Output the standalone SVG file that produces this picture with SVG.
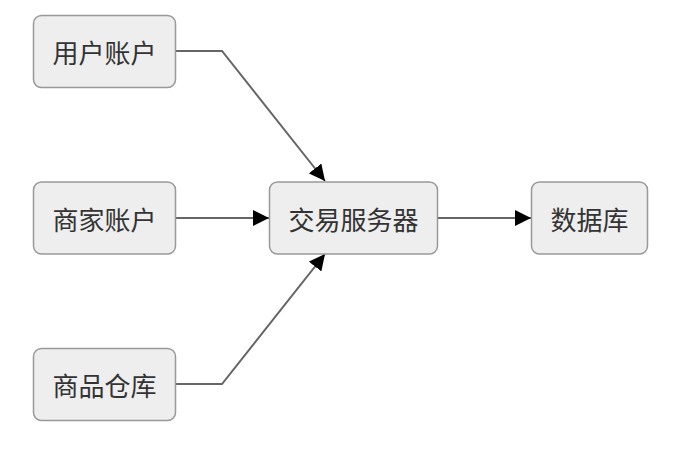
<svg xmlns="http://www.w3.org/2000/svg" width="678" height="450" viewBox="0 0 678 450">
<style>
.node rect{fill:#eeeeee;stroke:#999999;stroke-width:1.5}
.node text{font-family:"Noto Sans CJK SC","Noto Sans",sans-serif;font-size:26px;fill:#333333;text-anchor:middle;dominant-baseline:central}
.edge{fill:none;stroke:#666666;stroke-width:2;marker-end:url(#arr)}
</style>
<defs>
<marker id="arr" viewBox="0 0 10 10" refX="10" refY="5" markerWidth="8" markerHeight="8" orient="auto" markerUnits="strokeWidth">
<path d="M0,0 L10,5 L0,10 z" fill="#000000"/>
</marker>
</defs>
<rect width="678" height="450" fill="#ffffff"/>
<g id="edges">
<path class="edge" d="M176,51 H222 L325,181"/>
<path class="edge" d="M176,218 H269"/>
<path class="edge" d="M176,384 H222 L325,254"/>
<path class="edge" d="M438,218 H531"/>
</g>
<g id="n1" class="node"><rect x="33.5" y="15.5" width="142" height="72" rx="8"/><text x="104.5" y="51.5">用户账户</text></g>
<g id="n2" class="node"><rect x="33.5" y="182" width="142" height="72" rx="8"/><text x="104.5" y="218">商家账户</text></g>
<g id="n3" class="node"><rect x="33.5" y="348.5" width="142" height="72" rx="8"/><text x="104.5" y="384.5">商品仓库</text></g>
<g id="n4" class="node"><rect x="269.5" y="182" width="168" height="72" rx="8"/><text x="353.5" y="218">交易服务器</text></g>
<g id="n5" class="node"><rect x="531.5" y="182" width="116" height="72" rx="8"/><text x="589.5" y="218">数据库</text></g>
</svg>
